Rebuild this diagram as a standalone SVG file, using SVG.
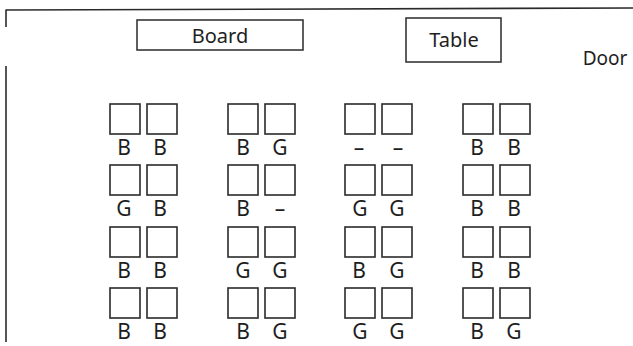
<svg xmlns="http://www.w3.org/2000/svg" width="633" height="346" viewBox="0 0 633 346">
<style>
.wall{stroke:#2a2a2a;stroke-width:1.6;fill:none}
.box{stroke:#2a2a2a;stroke-width:1.5;fill:#fff}
.seat{stroke:#2a2a2a;stroke-width:1.6;fill:#fff}
.t{font-family:"Noto Sans","Open Sans","Liberation Sans",sans-serif;font-size:20px;fill:#1e1e1e;text-anchor:middle}
.lbl{font-family:"Noto Sans","Open Sans","Liberation Sans",sans-serif;font-size:21px;fill:#1e1e1e;text-anchor:middle}
</style>
<rect width="633" height="346" fill="#fff"/>
<g id="walls">
<line class="wall" x1="6" y1="10" x2="633" y2="8"/>
<line class="wall" x1="6" y1="9.5" x2="6" y2="27"/>
<line class="wall" x1="6" y1="66" x2="6" y2="342"/>
</g>
<g id="board">
<rect class="box" x="137" y="20" width="166" height="30"/>
<text class="t" x="220" y="43">Board</text>
</g>
<g id="table">
<rect class="box" x="406" y="18" width="95" height="44"/>
<text class="t" x="454" y="47">Table</text>
</g>
<g id="door">
<text class="t" x="605" y="65" style="font-size:19px">Door</text>
</g>
<g id="seats">
<g id="row1">
<rect class="seat" x="110" y="104" width="30" height="30"/><text class="lbl" x="124" y="155">B</text>
<rect class="seat" x="147" y="104" width="30" height="30"/><text class="lbl" x="160" y="155">B</text>
<rect class="seat" x="228" y="104" width="30" height="30"/><text class="lbl" x="243" y="155">B</text>
<rect class="seat" x="265" y="104" width="30" height="30"/><text class="lbl" x="280" y="155">G</text>
<rect class="seat" x="345" y="104" width="30" height="30"/><text class="lbl" x="359" y="155">–</text>
<rect class="seat" x="382" y="104" width="30" height="30"/><text class="lbl" x="398" y="155">–</text>
<rect class="seat" x="463" y="104" width="30" height="30"/><text class="lbl" x="477" y="155">B</text>
<rect class="seat" x="500" y="104" width="30" height="30"/><text class="lbl" x="514" y="155">B</text>
</g>
<g id="row2">
<rect class="seat" x="110" y="165" width="30" height="30"/><text class="lbl" x="124" y="216">G</text>
<rect class="seat" x="147" y="165" width="30" height="30"/><text class="lbl" x="160" y="216">B</text>
<rect class="seat" x="228" y="165" width="30" height="30"/><text class="lbl" x="243" y="216">B</text>
<rect class="seat" x="265" y="165" width="30" height="30"/><text class="lbl" x="280" y="216">–</text>
<rect class="seat" x="345" y="165" width="30" height="30"/><text class="lbl" x="360" y="216">G</text>
<rect class="seat" x="382" y="165" width="30" height="30"/><text class="lbl" x="397" y="216">G</text>
<rect class="seat" x="463" y="165" width="30" height="30"/><text class="lbl" x="477" y="216">B</text>
<rect class="seat" x="500" y="165" width="30" height="30"/><text class="lbl" x="514" y="216">B</text>
</g>
<g id="row3">
<rect class="seat" x="110" y="227" width="30" height="30"/><text class="lbl" x="124" y="278">B</text>
<rect class="seat" x="147" y="227" width="30" height="30"/><text class="lbl" x="160" y="278">B</text>
<rect class="seat" x="228" y="227" width="30" height="30"/><text class="lbl" x="243" y="278">G</text>
<rect class="seat" x="265" y="227" width="30" height="30"/><text class="lbl" x="280" y="278">G</text>
<rect class="seat" x="345" y="227" width="30" height="30"/><text class="lbl" x="359" y="278">B</text>
<rect class="seat" x="382" y="227" width="30" height="30"/><text class="lbl" x="397" y="278">G</text>
<rect class="seat" x="463" y="227" width="30" height="30"/><text class="lbl" x="477" y="278">B</text>
<rect class="seat" x="500" y="227" width="30" height="30"/><text class="lbl" x="514" y="278">B</text>
</g>
<g id="row4">
<rect class="seat" x="110" y="288" width="30" height="30"/><text class="lbl" x="124" y="339">B</text>
<rect class="seat" x="147" y="288" width="30" height="30"/><text class="lbl" x="160" y="339">B</text>
<rect class="seat" x="228" y="288" width="30" height="30"/><text class="lbl" x="243" y="339">B</text>
<rect class="seat" x="265" y="288" width="30" height="30"/><text class="lbl" x="280" y="339">G</text>
<rect class="seat" x="345" y="288" width="30" height="30"/><text class="lbl" x="360" y="339">G</text>
<rect class="seat" x="382" y="288" width="30" height="30"/><text class="lbl" x="397" y="339">G</text>
<rect class="seat" x="463" y="288" width="30" height="30"/><text class="lbl" x="477" y="339">B</text>
<rect class="seat" x="500" y="288" width="30" height="30"/><text class="lbl" x="514" y="339">G</text>
</g>
</g>
</svg>
